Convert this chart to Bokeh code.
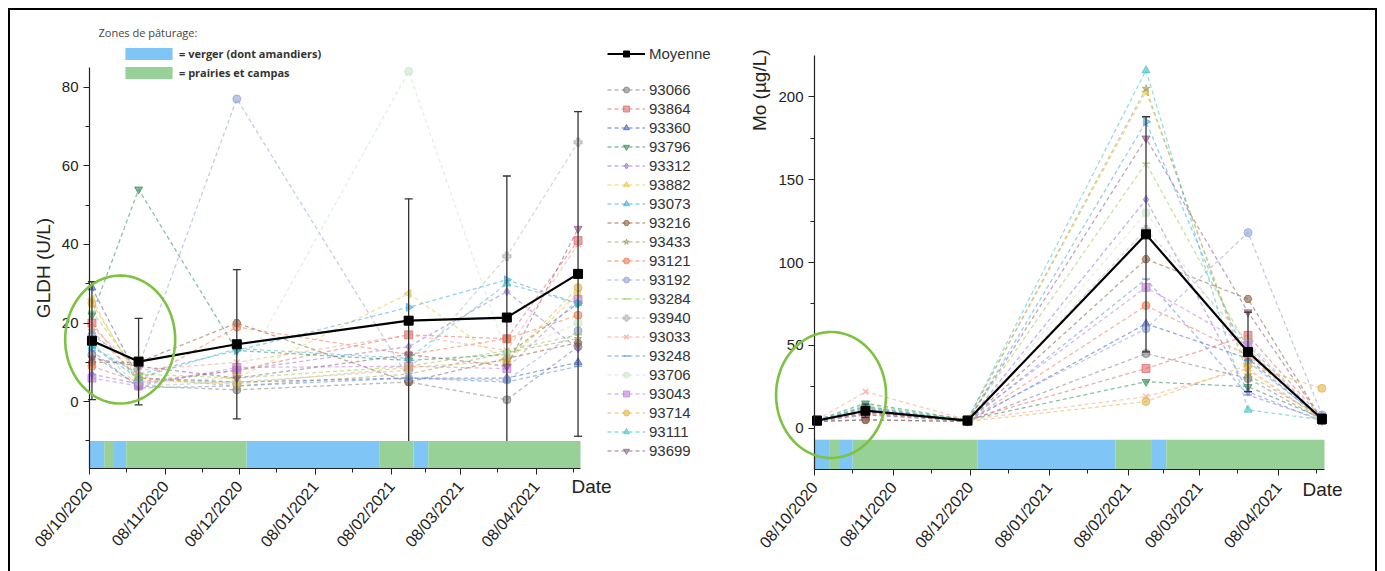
import math
import numpy as np
import pandas as pd
from bokeh.plotting import figure
from bokeh.models import (ColumnDataSource, FixedTicker, DatetimeTickFormatter,
                          Legend, LegendItem, Label, PolyAnnotation, Range1d)
from bokeh.layouts import row
from bokeh.embed import file_html
from bokeh.resources import INLINE

# ---------------- data ----------------
sample_dates = ["2020-10-09", "2020-10-28", "2020-12-07", "2021-02-15", "2021-03-27", "2021-04-25"]
month_ticks = ["2020-10-08", "2020-11-08", "2020-12-08", "2021-01-08", "2021-02-08", "2021-03-08", "2021-04-08"]
minor_ticks = ["2020-10-23", "2020-11-23", "2020-12-23", "2021-01-23", "2021-02-22", "2021-03-23", "2021-04-23"]

series_ids = ["93066", "93864", "93360", "93796", "93312", "93882", "93073", "93216", "93433", "93121",
              "93192", "93284", "93940", "93033", "93248", "93706", "93043", "93714", "93111", "93699"]

# GLDH (U/L)
GLDH_93066 = [12, 4, 3, 5, 0.5, 14]
GLDH_93864 = [20, 5, 8, 17, 16, 41]
GLDH_93360 = [29, 6, 5, 6, 6, 10]
GLDH_93796 = [22, 54, 13, 10.5, 12, 25]
GLDH_93312 = [7, 4.5, 8, 14, 28, 13.5]
GLDH_93882 = [26, 5, 6, 27.5, 10, 27.5]
GLDH_93073 = [14, 7, 13, 24, 31, 25]
GLDH_93216 = [10, 10, 20, 5, 11, 15]
GLDH_93433 = [18, 6, 4, 7, 12.5, 16]
GLDH_93121 = [9, 5, 19, 12, 16, 22]
GLDH_93192 = [17, 9, 77, 6, 5.5, 18]
GLDH_93284 = [23, 7, 6, 9, 13, 17]
GLDH_93940 = [15, 4, 5, 8, 37, 66]
GLDH_93033 = [19, 8, 10, 17, 13, 40]
GLDH_93248 = [13, 3.5, 4, 6, 5, 9]
GLDH_93706 = [16, 5, 5, 84, 12, 20]
GLDH_93043 = [6, 4, 8.7, 9, 8.4, 26]
GLDH_93714 = [25, 6, 4.5, 8.7, 10.4, 29]
GLDH_93111 = [14, 6, 13.5, 11, 30, 25]
GLDH_93699 = [11, 9, 6, 12, 9, 44]
GLDH_mean = [15.5, 10.2, 14.6, 20.6, 21.4, 32.5]
GLDH_sd = [15, 11, 19, 31, 36, 41.3]

# Mo (ug/L)
MO_93066 = [4, 5, 4, 45, 30, 5]
MO_93864 = [5, 8, 5, 36, 56, 6]
MO_93360 = [4, 12, 4, 63, 42, 5]
MO_93796 = [5, 15, 5, 28, 25, 6]
MO_93312 = [4, 10, 4, 138, 22, 4]
MO_93882 = [4, 9, 5, 203, 35, 5]
MO_93073 = [5, 13, 4, 185, 40, 6]
MO_93216 = [4, 5, 4, 102, 78, 5]
MO_93433 = [5, 11, 5, 205, 32, 7]
MO_93121 = [4, 9, 4, 74, 44, 6]
MO_93192 = [5, 12, 5, 60, 118, 8]
MO_93284 = [4, 14, 5, 160, 48, 5]
MO_93940 = [4, 10, 4, 120, 52, 5]
MO_93033 = [5, 22, 5, 19, 36, 5]
MO_93248 = [4, 8, 4, 90, 20, 5]
MO_93706 = [5, 11, 4, 130, 45, 6]
MO_93043 = [4, 9, 5, 85, 50, 5]
MO_93714 = [5, 10, 4, 16, 38, 24]
MO_93111 = [4, 13, 5, 216, 11, 5]
MO_93699 = [5, 10, 4, 175, 70, 5]
MO_mean = [4.5, 10.5, 4.5, 117, 46, 5.5]
MO_sd = [0.7, 4, 0.6, 71, 24, 3]

# grazing zones
zone_start = ["2020-10-08", "2020-10-14", "2020-10-18", "2020-10-23", "2020-12-11", "2021-02-03", "2021-02-17", "2021-02-23"]
zone_end = ["2020-10-14", "2020-10-18", "2020-10-23", "2020-12-11", "2021-02-03", "2021-02-17", "2021-02-23", "2021-04-26"]
zone_type = ["verger", "prairie", "verger", "prairie", "verger", "prairie", "verger", "prairie"]

GLDH_series = [GLDH_93066, GLDH_93864, GLDH_93360, GLDH_93796, GLDH_93312, GLDH_93882, GLDH_93073,
               GLDH_93216, GLDH_93433, GLDH_93121, GLDH_93192, GLDH_93284, GLDH_93940, GLDH_93033,
               GLDH_93248, GLDH_93706, GLDH_93043, GLDH_93714, GLDH_93111, GLDH_93699]
MO_series = [MO_93066, MO_93864, MO_93360, MO_93796, MO_93312, MO_93882, MO_93073,
             MO_93216, MO_93433, MO_93121, MO_93192, MO_93284, MO_93940, MO_93033,
             MO_93248, MO_93706, MO_93043, MO_93714, MO_93111, MO_93699]

# ---------------- styles ----------------
colors = ["#7f7f7f", "#e06666", "#3f63c4", "#2e8b57", "#9370db", "#e6c84a", "#3aa8e0", "#8b5e3c",
          "#a3a060", "#f07a50", "#8fa2d8", "#92d050", "#b8b8b8", "#f4a08c", "#5b8fd6", "#c8e6c8",
          "#c07ee0", "#e3b343", "#3fc0c8", "#8e5a80"]
markers = ["circle", "square", "triangle", "inverted_triangle", "diamond", "triangle", "triangle", "hex",
           "star", "circle", "circle", "dash", "plus", "x", "dash", "circle", "square", "circle",
           "triangle", "inverted_triangle"]
angles = [0, 0, 0, 0, 0, math.pi / 2, -math.pi / 2, 0, 0, 0, 0, 0, 0, 0, 0, 0, 0, 0, 0, 0]

BLUE = "#7fc6f6"
GREEN = "#98d198"
FONT = "Liberation Sans"
TXT = "#222222"

X0 = pd.Timestamp("2020-10-08")
X1 = pd.Timestamp("2021-04-26")
dates = pd.to_datetime(sample_dates)
H = 561


def ms(d):
    return pd.Timestamp(d).value / 1e6


def make_fig(W, a, b, t, bo, ylo, yhi, yticks, yminor):
    # the frame covers the whole figure; axes are pinned inside it
    upx = (X1 - X0) / (b - a)
    xr = Range1d(X0 - a * upx, X1 + (W - b) * upx)
    upy = (yhi - ylo) / (bo - t)
    yr = Range1d(ylo - (H - bo) * upy, yhi + t * upy)
    p = figure(width=W, height=H, min_border=0, x_axis_type="datetime", x_range=xr, y_range=yr,
               output_backend="svg", toolbar_location=None)
    p.xgrid.visible = False
    p.ygrid.visible = False
    p.outline_line_color = None
    p.background_fill_color = "white"
    p.border_fill_color = "white"
    p.xaxis.ticker = FixedTicker(ticks=[ms(d) for d in month_ticks], minor_ticks=[ms(d) for d in minor_ticks])
    fmt = "%d/%m/%Y"
    p.xaxis.formatter = DatetimeTickFormatter(milliseconds=fmt, seconds=fmt, minsec=fmt, minutes=fmt,
                                              hourmin=fmt, hours=fmt, days=fmt, months=fmt, years=fmt)
    p.xaxis.major_label_orientation = 0.87
    p.xaxis.major_label_standoff = 9
    p.xaxis.fixed_location = ylo
    p.xaxis.bounds = (ms(X0), ms(X1))
    p.yaxis.ticker = FixedTicker(ticks=yticks, minor_ticks=yminor)
    p.yaxis.fixed_location = ms(X0)
    p.yaxis.bounds = (ylo, yhi)
    for ax in (p.xaxis, p.yaxis):
        ax.major_label_text_font = FONT
        ax.major_label_text_font_size = "15px"
        ax.major_label_text_color = TXT
        ax.axis_line_color = "#222222"
        ax.axis_line_width = 1.2
        ax.major_tick_line_color = "#222222"
        ax.minor_tick_line_color = "#222222"
        ax.major_tick_in = 0
        ax.major_tick_out = 6
        ax.minor_tick_in = 0
        ax.minor_tick_out = 4
    p.xaxis.major_label_text_font_size = "16px"
    return p, (a, b, t, bo)


def draw(p, series, mean, sd, ylo, bar_top):
    items = []
    for i, vals in enumerate(series):
        src = ColumnDataSource(dict(x=dates, y=vals))
        lr = p.line("x", "y", source=src, line_color=colors[i], line_dash="4 3", line_width=1.3, line_alpha=0.55)
        sr = p.scatter("x", "y", source=src, marker=markers[i], angle=angles[i], size=8,
                       fill_color=colors[i], line_color=colors[i], fill_alpha=0.6, line_alpha=0.7,
                       line_width=1.5 if markers[i] in ("dash", "plus", "x") else 1)
        items.append(LegendItem(label=series_ids[i], renderers=[lr, sr]))
    lo = [m - s for m, s in zip(mean, sd)]
    hi = [m + s for m, s in zip(mean, sd)]
    esrc = ColumnDataSource(dict(x=dates, lo=lo, hi=hi, y=mean))
    p.segment("x", "lo", "x", "hi", source=esrc, line_color="#333333", line_width=1.3)
    p.scatter("x", "lo", source=esrc, marker="dash", size=8, line_color="#333333", line_width=1.3)
    p.scatter("x", "hi", source=esrc, marker="dash", size=8, line_color="#333333", line_width=1.3)
    ml = p.line("x", "y", source=esrc, line_color="black", line_width=2.2)
    mp = p.scatter("x", "y", source=esrc, marker="square", size=9, fill_color="black", line_color="black")
    # zone bar (drawn over the lower error-bar ends)
    zs = pd.to_datetime(zone_start)
    ze = pd.to_datetime(zone_end)
    vb = [k for k, t in enumerate(zone_type) if t == "verger"]
    pb = [k for k, t in enumerate(zone_type) if t == "prairie"]
    rb = p.quad(left=zs[vb], right=ze[vb], bottom=ylo, top=bar_top, fill_color=BLUE, line_color=None)
    rg = p.quad(left=zs[pb], right=ze[pb], bottom=ylo, top=bar_top, fill_color=GREEN, line_color=None)
    return items, ml, mp, rb, rg


def ellipse(p, geom, cx, cy, rx_px, ry_px):
    a, b, t, bo = geom
    ms_per_px = (ms(X1) - ms(X0)) / (b - a)
    yb = p.yaxis[0].bounds
    u_per_px = (yb[1] - yb[0]) / (bo - t)
    tt = np.linspace(0, 2 * np.pi, 120)
    xs = ms(cx) + rx_px * ms_per_px * np.cos(tt)
    ys = cy + ry_px * u_per_px * np.sin(tt)
    p.add_layout(PolyAnnotation(xs=list(xs), ys=list(ys), fill_alpha=0, line_color="#7dc242",
                                line_alpha=1.0, line_width=2.6, level="overlay"))


# ---------------- left figure ----------------
p1, g1 = make_fig(730, 79, 570, 57, 458, -17, 85, [0, 20, 40, 60, 80], [-10, 10, 30, 50, 70])
items1, ml1, mp1, rb1, rg1 = draw(p1, GLDH_series, GLDH_mean, GLDH_sd, -17, -10)

p1.add_layout(Label(x=X1, y=-17, x_offset=-9, y_offset=-7, text="Date", text_baseline="top",
                    text_font=FONT, text_font_size="19px", text_color=TXT))
p1.add_layout(Label(x=X0, y=34, x_offset=-46, angle=math.pi / 2, text="GLDH (U/L)", text_align="center",
                    text_baseline="middle", text_font=FONT, text_font_size="19px", text_color=TXT))
p1.add_layout(Label(x=X0, y=85, x_offset=9, y_offset=35, text="Zones de pâturage:", text_baseline="middle",
                    text_font="Open Sans", text_font_size="11px", text_color="#444444"))

zone_leg = Legend(items=[LegendItem(label="= verger (dont amandiers)", renderers=[rb1]),
                         LegendItem(label="= prairies et campas", renderers=[rg1])],
                  location=(109, 491), glyph_width=59, glyph_height=15, label_height=15, spacing=4,
                  padding=0, margin=0, label_standoff=1, label_text_font="Open Sans",
                  label_text_font_size="11px", label_text_font_style="bold", label_text_color="#333333",
                  background_fill_alpha=0, border_line_color=None)
p1.add_layout(zone_leg)

leg_common = dict(glyph_width=38, glyph_height=15, label_height=15, padding=0, margin=0, label_standoff=4,
                  label_text_font=FONT, label_text_font_size="15px", label_text_color="#333333",
                  background_fill_alpha=0, border_line_color=None)
mean_leg = Legend(items=[LegendItem(label="Moyenne", renderers=[ml1, mp1])], location=(597, 509), **leg_common)
ser_leg = Legend(items=items1, location=(597, 112), spacing=2, **leg_common)
p1.add_layout(mean_leg)
p1.add_layout(ser_leg)
ellipse(p1, g1, "2020-10-20 12:00", 15.8, 55, 64)

# ---------------- right figure ----------------
p2, g2 = make_fig(635, 74, 584, 45, 459, -25, 225, [0, 50, 100, 150, 200], [25, 75, 125, 175])
items2, ml2, mp2, rb2, rg2 = draw(p2, MO_series, MO_mean, MO_sd, -25, -7)
p2.add_layout(Label(x=X1, y=-25, x_offset=-22, y_offset=-9, text="Date", text_baseline="top",
                    text_font=FONT, text_font_size="19px", text_color=TXT))
p2.add_layout(Label(x=X0, y=204, x_offset=-55, angle=math.pi / 2, text="Mo (µg/L)", text_align="center",
                    text_baseline="middle", text_font=FONT, text_font_size="19px", text_color=TXT))
ellipse(p2, g2, "2020-10-14 12:00", 20, 55, 63)

layout = row(p1, p2, styles={"border-top": "2px solid black", "border-left": "2px solid black",
                             "border-right": "2px solid black", "margin-left": "8px", "margin-top": "8px"})
open("out.html", "w").write(file_html(layout, INLINE))
